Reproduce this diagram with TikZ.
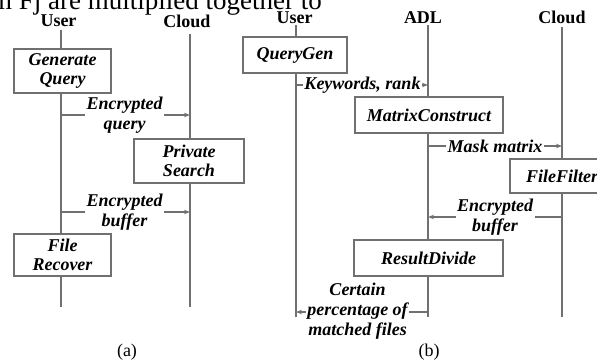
\documentclass[tikz,border=0pt]{standalone}
\usepackage{fontspec}
\setmainfont{Liberation Serif}
\usetikzlibrary{arrows.meta}
\definecolor{lg}{RGB}{112,112,112}
\begin{document}
\begin{tikzpicture}[x=1pt,y=-1pt,
  life/.style={draw=lg,line width=1.1pt},
  box/.style={draw=lg,fill=white,line width=1.1pt,inner sep=0pt,align=center,
    font=\fontsize{18}{19.5}\selectfont\bfseries\itshape},
  lbl/.style={fill=white,inner sep=1.5pt,align=center,
    font=\fontsize{18}{20}\selectfont\bfseries\itshape},
  hdr/.style={font=\fontsize{18}{20}\selectfont\bfseries,inner sep=0pt},
  arr/.style={draw=lg,line width=1.1pt,-{Stealth[length=6pt,width=4.5pt]}},
  capt/.style={font=\fontsize{18}{20}\selectfont,inner sep=0pt}]
\useasboundingbox (0,0) rectangle (597,360);
\clip (0,0) rectangle (597,360);

% clipped text line at the top
\node[anchor=base east,inner sep=0pt,font=\fontsize{27}{30}\selectfont] (toptext) at (322,9.5) {m Fj are multiplied together to};

% headers
\node[hdr] (hua) at (58.5,21) {User};
\node[hdr] (hca) at (187,21) {Cloud};
\node[hdr] (hub) at (294.5,17.5) {User};
\node[hdr] (hab) at (423,17.5) {ADL};
\node[hdr] (hcb) at (562,17.5) {Cloud};

% lifelines
\coordinate (uaT) at (61,30);  \coordinate (uaB) at (61,307);
\coordinate (caT) at (190,34); \coordinate (caB) at (190,307);
\coordinate (ubT) at (296,25); \coordinate (ubB) at (296,317);
\coordinate (abT) at (428,25); \coordinate (abB) at (428,317);
\coordinate (cbT) at (562,27); \coordinate (cbB) at (562,317);
\draw[life] (uaT) -- (uaB);
\draw[life] (caT) -- (caB);
\draw[life] (ubT) -- (ubB);
\draw[life] (abT) -- (abB);
\draw[life] (cbT) -- (cbB);

% boxes
\node[box,minimum width=97pt,minimum height=44pt] (gq) at (62.5,71) {Generate\\Query};
\node[box,minimum width=110pt,minimum height=44pt] (ps) at (189,161) {Private\\Search};
\node[box,minimum width=97pt,minimum height=42pt] (fr) at (62.5,255) {File\\Recover};
\node[box,minimum width=104pt,minimum height=36pt] (qg) at (295,55) {QueryGen};
\node[box,minimum width=148pt,minimum height=36pt] (mc) at (429,115) {MatrixConstruct};
\node[box,minimum width=104pt,minimum height=34pt] (ff) at (562,176) {FileFilter};
\node[box,minimum width=149pt,minimum height=36pt] (rd) at (428.5,258) {ResultDivide};

% message end points
\coordinate (ua1) at (61,115);  \coordinate (ca1) at (190,115);
\coordinate (ua2) at (61,212);  \coordinate (ca2) at (190,212);
\coordinate (ub1) at (296,85);  \coordinate (ab1) at (428,85);
\coordinate (ab2) at (428,146); \coordinate (cb2) at (562,146);
\coordinate (cb3) at (562,217); \coordinate (ab3) at (428,217);
\coordinate (ab4) at (428,312); \coordinate (ub4) at (296,312);

% messages
\draw[arr] (ua1) -- (ca1);
\draw[arr] (ua2) -- (ca2);
\draw[arr] (ub1) -- (ab1);
\draw[arr] (ab2) -- (cb2);
\draw[arr] (cb3) -- (ab3);
\draw[arr] (ab4) -- (ub4);

\node[lbl] (eq) at (124.5,115) {Encrypted\\query};
\node[lbl] (eb) at (124.5,212) {Encrypted\\buffer};
\node[lbl,inner sep=1pt] (kr) at (362.5,85) {Keywords, rank};
\node[lbl] (mm) at (495,146) {Mask matrix};
\node[lbl] (eb2) at (495,217) {Encrypted\\buffer};
\node[lbl] (cp) at (357.5,311) {Certain\\percentage of\\matched files};

% captions
\node[capt] (capa) at (127,352) {(a)};
\node[capt] (capb) at (429,352) {(b)};
\end{tikzpicture}
\end{document}
